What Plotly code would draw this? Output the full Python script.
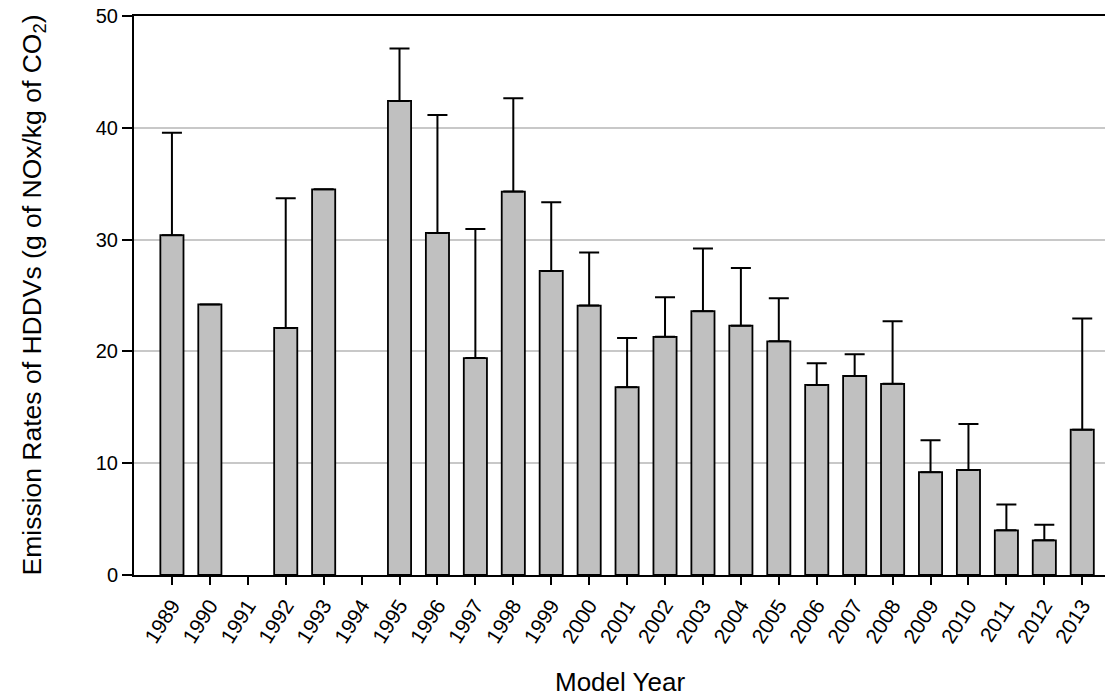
import plotly.graph_objects as go

years = [str(y) for y in range(1989, 2014)]
means = [30.4, 24.2, None, 22.1, 34.5, None, 42.4, 30.6, 19.4, 34.3, 27.2, 24.1,
         16.8, 21.3, 23.6, 22.3, 20.9, 17.0, 17.8, 17.1, 9.2, 9.4, 4.0, 3.1, 13.0]
upper = [39.55, None, None, 33.7, None, None, 47.1, 41.15, 30.95, 42.65, 33.35, 28.85,
         21.2, 24.85, 29.2, 27.45, 24.75, 18.95, 19.75, 22.7, 12.05, 13.5, 6.3, 4.5, 22.95]

err_plus = []
for m, u in zip(means, upper):
    if m is None or u is None:
        err_plus.append(0)
    else:
        err_plus.append(u - m)
err_minus = [0] * len(means)

FONT = "Liberation Sans, Arial, sans-serif"

fig = go.Figure()
fig.add_trace(go.Bar(
    x=years, y=means, width=0.61,
    marker=dict(color="#c0c0c0", line=dict(color="black", width=1.8)),
    error_y=dict(type="data", symmetric=False, array=err_plus, arrayminus=err_minus,
                 color="black", thickness=2, width=10),
))

fig.update_layout(
    width=1105, height=697,
    margin=dict(l=134, r=0, t=16, b=122),
    plot_bgcolor="white", paper_bgcolor="white",
    showlegend=False,
    font=dict(family=FONT, color="black"),
    xaxis=dict(
        type="category", categoryorder="array", categoryarray=years,
        range=[-1, 24.6],
        showline=True, linecolor="black", linewidth=2, mirror=True,
        ticks="outside", ticklen=8, tickwidth=2, tickcolor="black",
        tickangle=-58, tickfont=dict(family=FONT, size=21, color="black"),
        showgrid=False,
    ),
    yaxis=dict(
        range=[0, 50], tickvals=[0, 10, 20, 30, 40, 50],
        showline=True, linecolor="black", linewidth=2,
        ticks="outside", ticklen=10, tickwidth=2, tickcolor="black",
        tickfont=dict(family=FONT, size=20, color="black"),
        showgrid=True, gridcolor="#c8c8c8", gridwidth=1.5,
        zeroline=False,
    ),
    annotations=[
        dict(text="Emission Rates of HDDVs (g of NOx/kg of CO<sub>2</sub>)",
             xref="paper", yref="paper", x=0, y=0.5, xanchor="center", yanchor="middle",
             xshift=-101, textangle=-90, showarrow=False,
             font=dict(family=FONT, size=26.5, color="black")),
        dict(text="Model Year",
             xref="paper", yref="paper", x=0.5, y=0, xanchor="center", yanchor="middle",
             yshift=-107, showarrow=False,
             font=dict(family=FONT, size=26, color="black")),
    ],
)

fig.write_html("out.html", config={"displayModeBar": False},
               post_script="document.body.style.margin='0';document.body.style.overflow='hidden';")
